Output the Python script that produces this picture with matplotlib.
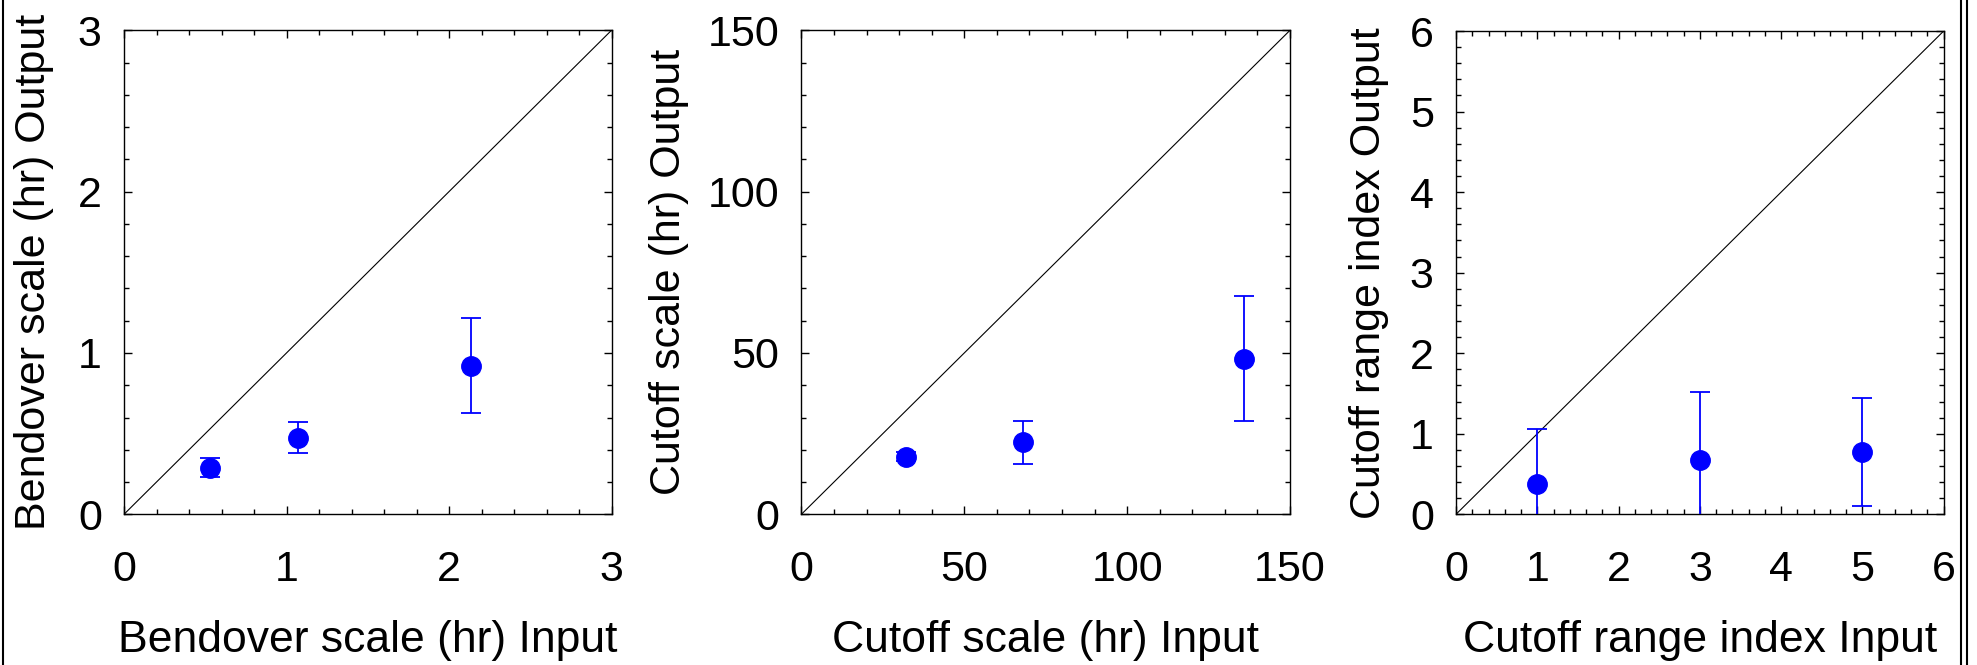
import matplotlib
matplotlib.use("Agg")
import matplotlib.pyplot as plt
from matplotlib.lines import Line2D
from matplotlib.ticker import MultipleLocator

plt.rcParams['font.family'] = ['Liberation Sans', 'DejaVu Sans']

# ---- data ----
bend_in = [0.53, 1.07, 2.135]
bend_out = [0.29, 0.475, 0.92]
bend_err = [0.056, 0.097, 0.295]

cut_in = [32, 68, 136]
cut_out = [17.9, 22.3, 48.2]
cut_err = [1.3, 6.6, 19.4]

rng_in = [1, 3, 5]
rng_out = [0.38, 0.67, 0.77]
rng_err = [0.68, 0.85, 0.67]

limits = [3, 150, 6]
major_steps = [1, 50, 1]
minor_steps = [0.2, 10, 0.2]
xlabels = ["Bendover scale (hr) Input", "Cutoff scale (hr) Input", "Cutoff range index Input"]
ylabels = ["Bendover scale (hr) Output", "Cutoff scale (hr) Output", "Cutoff range index Output"]

W, H = 1977, 665
fig = plt.figure(figsize=(W / 100, H / 100), dpi=100)

# axes boxes in pixels: left, right, top, bottom
boxes = [(124, 611.5, 30.3, 514.3), (801.4, 1290, 30.3, 514.3), (1456, 1943.7, 31, 514.3)]
ylab_x = [-0.162, -0.2485, -0.1558]
series = [(bend_in, bend_out, bend_err), (cut_in, cut_out, cut_err), (rng_in, rng_out, rng_err)]

for i, (l, r, t, b) in enumerate(boxes):
    ax = fig.add_axes([l / W, 1 - b / H, (r - l) / W, (b - t) / H])
    lim = limits[i]
    ax.set_xlim(0, lim)
    ax.set_ylim(0, lim)
    ax.plot([0, lim], [0, lim], color='black', lw=0.8)
    xs, ys, es = series[i]
    ax.errorbar(xs, ys, yerr=es, fmt='o', color='blue', ecolor='blue',
                markersize=14, elinewidth=1.3, capsize=7, capthick=1.3, zorder=3)
    ax.xaxis.set_major_locator(MultipleLocator(major_steps[i]))
    ax.yaxis.set_major_locator(MultipleLocator(major_steps[i]))
    ax.xaxis.set_minor_locator(MultipleLocator(minor_steps[i]))
    ax.yaxis.set_minor_locator(MultipleLocator(minor_steps[i]))
    ax.tick_params(which='both', direction='in', top=True, right=True, width=1.0, colors='black')
    ax.tick_params(which='major', length=5.8)
    ax.tick_params(which='minor', length=3.4)
    ax.tick_params(axis='x', which='major', pad=25.5, labelsize=31)
    ax.tick_params(axis='y', which='major', pad=16, labelsize=31)
    for sp in ax.spines.values():
        sp.set_linewidth(1.0)
    ax.set_xlabel(xlabels[i], fontsize=32)
    ax.set_ylabel(ylabels[i], fontsize=31)
    ax.xaxis.label.set_va('baseline')
    ax.xaxis.set_label_coords(0.5, -0.2845)
    ax.yaxis.label.set_va('baseline')
    ax.yaxis.set_label_coords(ylab_x[i], 0.5)

# figure frame lines
for xp in [3.3, 1960.7, 1966.7]:
    fig.add_artist(Line2D([xp / W, xp / W], [0, 1], transform=fig.transFigure,
                          color='black', lw=1.5))

fig.savefig("out.png", dpi=100, facecolor='white')
